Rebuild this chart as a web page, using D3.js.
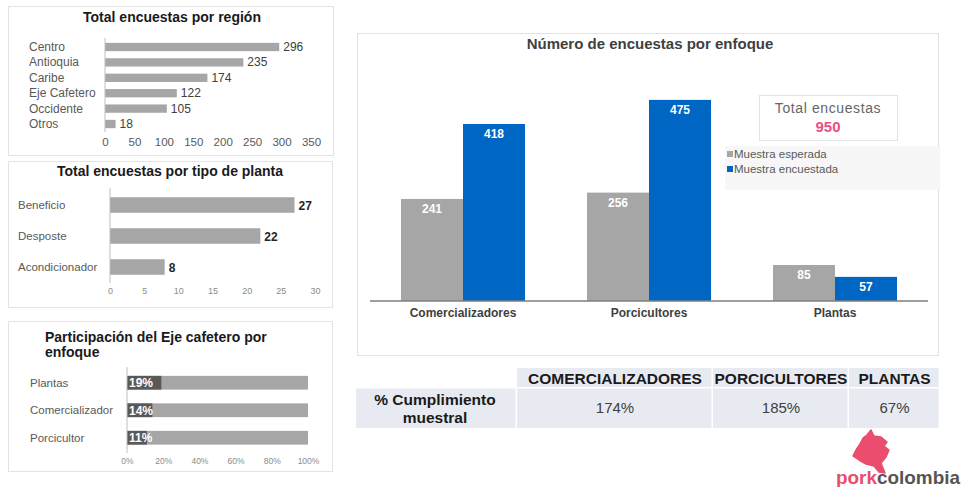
<!DOCTYPE html>
<html>
<head>
<meta charset="utf-8">
<script src="https://cdn.jsdelivr.net/npm/d3@7"></script>
<style>
  html, body { margin: 0; padding: 0; background: #fff; }
  svg { display: block; }
  text { font-family: "Liberation Sans", Arial, sans-serif; }
</style>
</head>
<body>
<svg id="chart" width="963" height="487"></svg>
<script>
// ---- data ----
const regionNames = ["Centro", "Antioquia", "Caribe", "Eje Cafetero", "Occidente", "Otros"];
const regionValues = [296, 235, 174, 122, 105, 18];
const regionTicks = [0, 50, 100, 150, 200, 250, 300, 350];

const plantTypes = ["Beneficio", "Desposte", "Acondicionador"];
const plantValues = [27, 22, 8];
const plantTicks = [0, 5, 10, 15, 20, 25, 30];

const ejeFocus = ["Plantas", "Comercializador", "Porcicultor"];
const ejeShare = [0.19, 0.14, 0.11];
const ejeTicks = [0, 0.2, 0.4, 0.6, 0.8, 1];

const focusNames = ["Comercializadores", "Porcicultores", "Plantas"];
const seriesNames = ["Muestra esperada", "Muestra encuestada"];
const expected = [241, 256, 85];
const surveyed = [418, 475, 57];
const totalSurveys = 950;

const complianceHeaders = ["COMERCIALIZADORES", "PORCICULTORES", "PLANTAS"];
const compliance = ["174%", "185%", "67%"];

const GRAY = "#a6a6a6", BLUE = "#0066c4", DARK = "#595959";

const svg = d3.select("#chart");

function panel(x, y, w, h) {
  svg.append("rect").attr("x", x).attr("y", y).attr("width", w).attr("height", h)
    .attr("fill", "#fff").attr("stroke", "#e3e3e3").attr("stroke-width", 1);
}

// ---- panel 1: surveys by region ----
panel(8.5, 6.5, 325, 149);
svg.append("text").attr("x", 172).attr("y", 22).attr("text-anchor", "middle")
  .attr("font-size", 14).attr("font-weight", "bold").attr("fill", "#1a1a1a")
  .text("Total encuestas por región");
{
  const x = d3.scaleLinear().domain([0, 350]).range([105, 311]);
  const y = d3.scaleBand().domain(regionNames).range([39.3, 131.7]).paddingInner(0.46).paddingOuter(0.23);
  const g = svg.append("g");
  g.selectAll("rect.bar").data(regionNames).join("rect")
    .attr("x", x(0)).attr("y", d => y(d)).attr("height", y.bandwidth())
    .attr("width", (d, i) => x(regionValues[i]) - x(0)).attr("fill", GRAY);
  g.selectAll("text.val").data(regionNames).join("text")
    .attr("x", (d, i) => x(regionValues[i]) + 4).attr("y", d => y(d) + y.bandwidth() / 2 + 4)
    .attr("font-size", 12).attr("fill", "#404040").text((d, i) => regionValues[i]);
  g.selectAll("text.cat").data(regionNames).join("text")
    .attr("x", 29).attr("y", d => y(d) + y.bandwidth() / 2 + 4)
    .attr("font-size", 12).attr("fill", "#595959").text(d => d);
  g.append("line").attr("x1", x(0)).attr("x2", x(0)).attr("y1", 38).attr("y2", 132)
    .attr("stroke", "#bfbfbf");
  const ax = svg.append("g").attr("transform", "translate(0,133)")
    .call(d3.axisBottom(x).tickValues(regionTicks).tickSize(0).tickPadding(5));
  ax.select(".domain").remove();
  ax.selectAll("text").attr("font-size", 11.5).attr("fill", "#595959")
    .attr("font-family", "Liberation Sans, Arial, sans-serif");
}

// ---- panel 2: surveys by plant type ----
panel(8.5, 161.5, 324, 146);
svg.append("text").attr("x", 170).attr("y", 176).attr("text-anchor", "middle")
  .attr("font-size", 14).attr("font-weight", "bold").attr("fill", "#1a1a1a")
  .text("Total encuestas por tipo de planta");
{
  const x = d3.scaleLinear().domain([0, 30]).range([110, 315]);
  const y = d3.scaleBand().domain(plantTypes).range([189.5, 282.5]).paddingInner(0.5).paddingOuter(0.25);
  const g = svg.append("g");
  g.selectAll("rect").data(plantTypes).join("rect")
    .attr("x", x(0)).attr("y", d => y(d)).attr("height", y.bandwidth())
    .attr("width", (d, i) => x(plantValues[i]) - x(0)).attr("fill", GRAY);
  g.selectAll("text.val").data(plantTypes).join("text")
    .attr("x", (d, i) => x(plantValues[i]) + 4).attr("y", d => y(d) + y.bandwidth() / 2 + 4.5)
    .attr("font-size", 12).attr("font-weight", "bold").attr("fill", "#262626").text((d, i) => plantValues[i]);
  g.selectAll("text.cat").data(plantTypes).join("text")
    .attr("x", 18).attr("y", d => y(d) + y.bandwidth() / 2 + 4)
    .attr("font-size", 11.5).attr("fill", "#595959").text(d => d);
  g.append("line").attr("x1", x(0)).attr("x2", x(0)).attr("y1", 188).attr("y2", 283)
    .attr("stroke", "#bfbfbf");
  const ax = svg.append("g").attr("transform", "translate(0,285)")
    .call(d3.axisBottom(x).tickValues(plantTicks).tickSize(0).tickPadding(3));
  ax.select(".domain").remove();
  ax.selectAll("text").attr("font-size", 9).attr("fill", "#8c8c8c")
    .attr("font-family", "Liberation Sans, Arial, sans-serif");
}

// ---- panel 3: Eje cafetero share by focus ----
panel(8.5, 321.5, 324, 150);
svg.append("text").attr("x", 45).attr("y", 342)
  .attr("font-size", 14).attr("font-weight", "bold").attr("fill", "#1a1a1a")
  .text("Participación del Eje cafetero por");
svg.append("text").attr("x", 45).attr("y", 357)
  .attr("font-size", 14).attr("font-weight", "bold").attr("fill", "#1a1a1a")
  .text("enfoque");
{
  const x = d3.scaleLinear().domain([0, 1]).range([127, 308]);
  const y = d3.scaleBand().domain(ejeFocus).range([369, 451.5]).paddingInner(0.5).paddingOuter(0.25);
  const g = svg.append("g");
  g.selectAll("rect.full").data(ejeFocus).join("rect")
    .attr("x", x(0)).attr("y", d => y(d)).attr("height", y.bandwidth())
    .attr("width", x(1) - x(0)).attr("fill", GRAY);
  g.selectAll("rect.part").data(ejeFocus).join("rect")
    .attr("x", x(0)).attr("y", d => y(d)).attr("height", y.bandwidth())
    .attr("width", (d, i) => x(ejeShare[i]) - x(0)).attr("fill", DARK);
  g.selectAll("text.val").data(ejeFocus).join("text")
    .attr("x", x(0) + 2).attr("y", d => y(d) + y.bandwidth() / 2 + 4.5)
    .attr("font-size", 12).attr("font-weight", "bold").attr("fill", "#fff")
    .text((d, i) => Math.round(ejeShare[i] * 100) + "%");
  g.selectAll("text.cat").data(ejeFocus).join("text")
    .attr("x", 30).attr("y", d => y(d) + y.bandwidth() / 2 + 4)
    .attr("font-size", 11.5).attr("fill", "#595959").text(d => d);
  g.append("line").attr("x1", x(0)).attr("x2", x(0)).attr("y1", 367).attr("y2", 453)
    .attr("stroke", "#bfbfbf");
  const ax = svg.append("g").attr("transform", "translate(0,456)")
    .call(d3.axisBottom(x).tickValues(ejeTicks).tickFormat(d3.format(".0%")).tickSize(0).tickPadding(2));
  ax.select(".domain").remove();
  ax.selectAll("text").attr("font-size", 8.5).attr("fill", "#8c8c8c")
    .attr("font-family", "Liberation Sans, Arial, sans-serif");
}

// ---- main chart: surveys by focus ----
panel(357.5, 33.5, 581, 322);
svg.append("text").attr("x", 650).attr("y", 49).attr("text-anchor", "middle")
  .attr("font-size", 15).attr("font-weight", "bold").attr("fill", "#404040")
  .text("Número de encuestas por enfoque");
{
  const x0 = d3.scaleBand().domain(focusNames).range([370, 928]).paddingInner(1 / 3).paddingOuter(1 / 6);
  const x1 = d3.scaleBand().domain(seriesNames).range([0, x0.bandwidth()]);
  const y = d3.scaleLinear().domain([0, 500]).range([301, 89.3]);
  const rows = focusNames.map((f, i) => ({ f, vals: [expected[i], surveyed[i]] }));
  const colors = d3.scaleOrdinal().domain(seriesNames).range([GRAY, BLUE]);

  // legend background and total box
  svg.append("rect").attr("x", 725).attr("y", 146).attr("width", 215).attr("height", 44).attr("fill", "#f7f7f7");
  svg.append("rect").attr("x", 759.5).attr("y", 95.5).attr("width", 138).attr("height", 45)
    .attr("fill", "#fff").attr("stroke", "#e3e3e3");
  svg.append("text").attr("x", 828).attr("y", 113).attr("text-anchor", "middle")
    .attr("font-family", "Lato, 'Noto Sans', sans-serif")
    .attr("font-size", 14).attr("fill", "#666").attr("letter-spacing", 0.6).text("Total encuestas");
  svg.append("text").attr("x", 828).attr("y", 132).attr("text-anchor", "middle")
    .attr("font-family", "Lato, 'Noto Sans', sans-serif")
    .attr("font-size", 15).attr("font-weight", "bold").attr("fill", "#ea4f86").text(totalSurveys);

  const groups = svg.append("g").selectAll("g").data(rows).join("g")
    .attr("transform", d => `translate(${x0(d.f)},0)`);
  groups.selectAll("rect").data(d => d.vals.map((v, j) => ({ s: seriesNames[j], v }))).join("rect")
    .attr("x", d => x1(d.s)).attr("width", x1.bandwidth())
    .attr("y", d => y(d.v)).attr("height", d => y(0) - y(d.v)).attr("fill", d => colors(d.s));
  groups.selectAll("text").data(d => d.vals.map((v, j) => ({ s: seriesNames[j], v }))).join("text")
    .attr("x", d => x1(d.s) + x1.bandwidth() / 2).attr("y", d => y(d.v) + 14)
    .attr("text-anchor", "middle").attr("font-size", 12).attr("font-weight", "bold")
    .attr("fill", "#fff").text(d => d.v);

  svg.append("line").attr("x1", 370).attr("x2", 928).attr("y1", 301).attr("y2", 301)
    .attr("stroke", "#7f7f7f").attr("stroke-width", 1.5);
  const ax = svg.append("g").attr("transform", "translate(0,301)")
    .call(d3.axisBottom(x0).tickSize(0).tickPadding(7));
  ax.select(".domain").remove();
  ax.selectAll("text").attr("font-size", 12).attr("font-weight", "bold").attr("fill", "#404040")
    .attr("font-family", "Liberation Sans, Arial, sans-serif");

  const leg = svg.append("g").selectAll("g").data(seriesNames).join("g")
    .attr("transform", (d, i) => `translate(727,${158 + i * 15})`);
  leg.append("rect").attr("x", 0).attr("y", -7).attr("width", 6).attr("height", 6).attr("fill", d => colors(d));
  leg.append("text").attr("x", 7).attr("y", 0).attr("font-size", 11.5).attr("fill", "#595959").text(d => d);
}

// ---- compliance table ----
{
  const colX = [517, 713, 849, 940];
  const fill = "#e8eaf2";
  const t = svg.append("g");
  complianceHeaders.forEach((h, i) => {
    t.append("rect").attr("x", colX[i]).attr("y", 368).attr("width", colX[i + 1] - colX[i] - 1.5)
      .attr("height", 19).attr("fill", fill);
    t.append("rect").attr("x", colX[i]).attr("y", 388.5).attr("width", colX[i + 1] - colX[i] - 1.5)
      .attr("height", 39.5).attr("fill", fill);
    t.append("text").attr("x", (colX[i] + colX[i + 1]) / 2).attr("y", 384).attr("text-anchor", "middle")
      .attr("font-family", "Lato, 'Noto Sans', sans-serif")
      .attr("font-size", 15.5).attr("font-weight", "bold").attr("fill", "#1a1a1a").text(h);
    t.append("text").attr("x", (colX[i] + colX[i + 1]) / 2).attr("y", 413).attr("text-anchor", "middle")
      .attr("font-family", "Lato, 'Noto Sans', sans-serif")
      .attr("font-size", 15).attr("fill", "#404040").text(compliance[i]);
  });
  t.append("rect").attr("x", 356).attr("y", 388.5).attr("width", 159.5).attr("height", 39.5).attr("fill", fill);
  t.append("text").attr("x", 435).attr("y", 405).attr("text-anchor", "middle")
    .attr("font-family", "Lato, 'Noto Sans', sans-serif")
    .attr("font-size", 15.5).attr("font-weight", "bold").attr("fill", "#1a1a1a").text("% Cumplimiento");
  t.append("text").attr("x", 435).attr("y", 423).attr("text-anchor", "middle")
    .attr("font-family", "Lato, 'Noto Sans', sans-serif")
    .attr("font-size", 15.5).attr("font-weight", "bold").attr("fill", "#1a1a1a").text("muestral");
}

// ---- brand mark ----
{
  const g = svg.append("g").attr("transform", "translate(850,430)");
  const pts = [[21,0],[24,6],[31,7],[37,12],[34,16],[39,20],[36,27],[31,33],[35,43],[29,42],[24,36],[16,34],[9,30],[3,26],[6,20],[10,14],[13,8],[17,5]];
  g.append("path").attr("d", d3.line()(pts) + "Z").attr("fill", "#ea4d6d")
    .attr("stroke", "#ea4d6d").attr("stroke-width", 1.5).attr("stroke-linejoin", "round");
  const txt = svg.append("text").attr("x", 836).attr("y", 484)
    .attr("font-family", "Lato, 'Noto Sans', sans-serif").attr("font-size", 19).attr("font-weight", "bold")
    .attr("textLength", 124).attr("lengthAdjust", "spacingAndGlyphs");
  txt.append("tspan").attr("fill", "#ea4d6d").text("pork");
  txt.append("tspan").attr("fill", "#555").text("colombia");
}
</script>
</body>
</html>
